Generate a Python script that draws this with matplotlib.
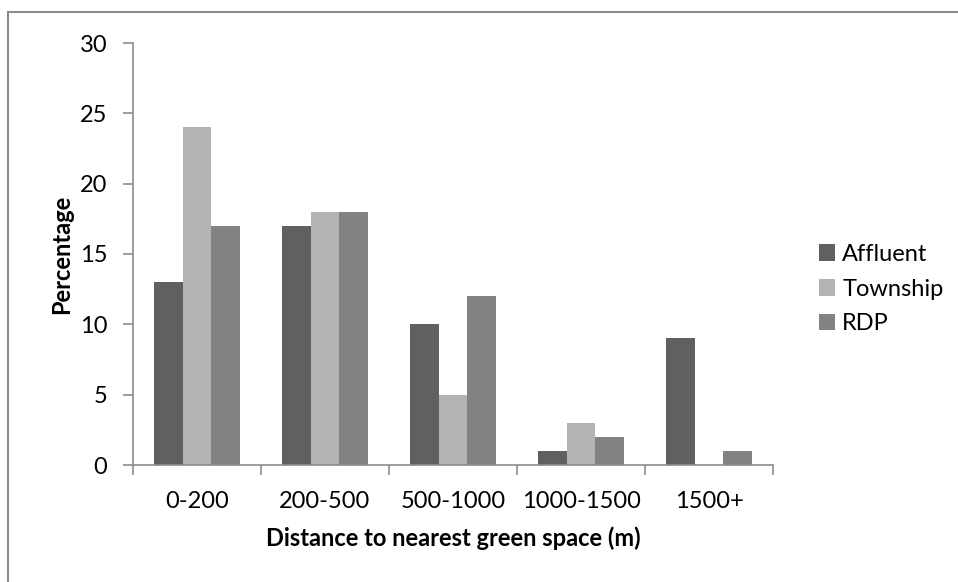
import matplotlib.pyplot as plt
import numpy as np
from matplotlib.patches import Rectangle

# data
categories = ['0-200', '200-500', '500-1000', '1000-1500', '1500+']
series = ['Affluent', 'Township', 'RDP']
affluent = [13, 17, 10, 1, 9]
township = [24, 18, 5, 3, 0]
rdp = [17, 18, 12, 2, 1]
colors = ['#606060', '#b3b3b3', '#828282']

plt.rcParams['font.family'] = ['Lato', 'DejaVu Sans']

W, H = 958, 582
fig = plt.figure(figsize=(W / 100, H / 100), dpi=100)

# outer chart border (only left/top visible in the picture)
fig.patches.append(Rectangle((8 / W, -0.1), 1.2, (H - 12) / H + 0.1,
                             transform=fig.transFigure, fill=False,
                             edgecolor='#8c8c8c', lw=1.5))

# plot area in pixels: x 133..773, y 43..465
ax = fig.add_axes([133 / W, 1 - 465 / H, (773 - 133) / W, (465 - 43) / H])

x = np.arange(len(categories))
w = 1 / 4.5
for i, (vals, name) in enumerate(zip([affluent, township, rdp], series)):
    ax.bar(x + (i - 1) * w, vals, w, color=colors[i], label=name)

ax.set_xlim(-0.5, len(categories) - 0.5)
ax.set_ylim(0, 30)
ax.set_yticks(range(0, 31, 5))
ax.set_xticks(x)
ax.set_xticklabels(categories)
ax.set_xticks(np.arange(-0.5, len(categories)), minor=True)

for s in ['top', 'right']:
    ax.spines[s].set_visible(False)
for s in ['left', 'bottom']:
    ax.spines[s].set_color('#8c8c8c')
    ax.spines[s].set_linewidth(1.2)

ax.tick_params(axis='y', direction='out', length=7, color='#8c8c8c', width=1.2,
               labelsize=17, pad=11.5)
ax.tick_params(axis='x', which='major', length=0, labelsize=17, pad=19)
ax.tick_params(axis='x', which='minor', direction='out', length=7,
               color='#8c8c8c', width=1.2)

ax.set_ylabel('Percentage', fontsize=17, fontweight='bold', labelpad=5)
ax.set_xlabel('Distance to nearest green space (m)', fontsize=17,
              fontweight='bold', labelpad=10)

ax.legend(loc='center left', bbox_to_anchor=(1.038, 0.417), frameon=False,
          fontsize=17, handlelength=0.7, handleheight=0.7, handletextpad=0.3,
          labelspacing=0.58)

fig.savefig('out.png', dpi=100)
